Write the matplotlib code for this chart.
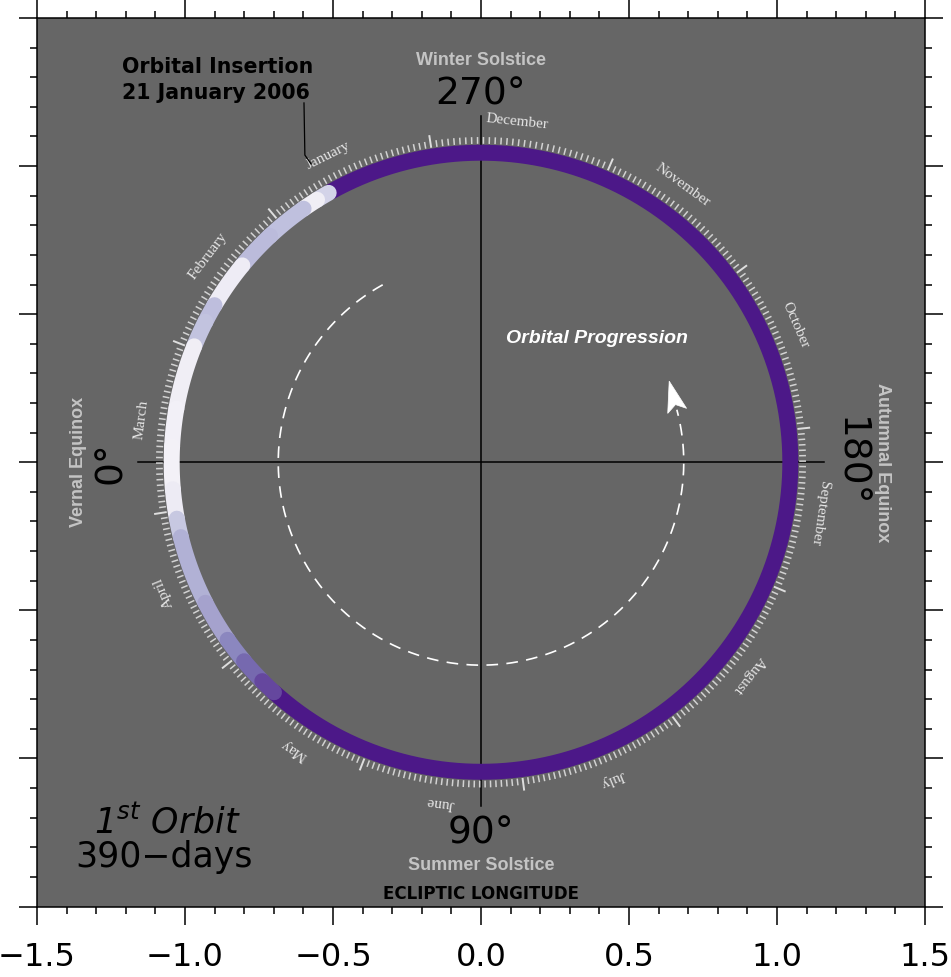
import numpy as np
import matplotlib
matplotlib.use("Agg")
import matplotlib.pyplot as plt
from matplotlib.collections import LineCollection
from matplotlib.patches import Polygon
from matplotlib.ticker import MultipleLocator

# Calendar scale around the orbit: ecliptic longitude (deg) of each month's first day
month_names = ["January", "February", "March", "April", "May", "June",
               "July", "August", "September", "October", "November", "December"]
month_start_lon = [279.0, 310.0, 338.5, 9.0, 38.5, 68.5,
                   97.5, 127.0, 157.0, 186.0, 216.5, 246.5]
month_days = [31, 28, 31, 30, 31, 30, 31, 31, 30, 31, 30, 31]
# Longitude where each month name is written
month_label_lon = [296.5, 323.0, 352.8, 22.3, 57.0, 83.1,
                   112.5, 141.5, 171.5, 203.5, 233.9, 264.0]

# Orbit track: longitude ranges (deg, unwrapped) and colour level on the Purples scale
track_start = [48.0, 299.5, 302.0, 305.0, 313.0, 320.5, 329.5, 333.0, 338.0,
               350.0, 357.0, 365.0, 370.5, 374.0, 387.0, 395.0, 400.0, 405.0]
track_end = [299.0, 302.0, 305.0, 313.0, 320.5, 329.5, 333.0, 338.0, 350.0,
             357.0, 365.0, 370.5, 374.0, 387.0, 395.0, 400.0, 405.0, 408.0]
track_level = [0.92, 0.28, 0.12, 0.36, 0.38, 0.13, 0.37, 0.35, 0.12,
               0.10, 0.09, 0.14, 0.33, 0.42, 0.47, 0.58, 0.68, 0.78]

# Orbital progression arrow (deg)
progress_start, progress_end = 299.0, 195.0 + 360.0

R_TRACK = 1.045
R_PROGRESS = 0.685


def lon_xy(lon_deg, r):
    t = np.radians(lon_deg)
    return -r * np.cos(t), -r * np.sin(t)


fig = plt.figure(figsize=(9.51, 9.77), dpi=100)
ax = fig.add_axes([37 / 951, 70 / 977, 888 / 951, 889.5 / 977])
ax.set_facecolor("#666666")
ax.set_xlim(-1.5, 1.5)
ax.set_ylim(-1.5015, 1.5015)

for sp in ax.spines.values():
    sp.set_linewidth(1.1)
ax.xaxis.set_major_locator(MultipleLocator(0.5))
ax.xaxis.set_minor_locator(MultipleLocator(0.1))
ax.yaxis.set_major_locator(MultipleLocator(0.5))
ax.yaxis.set_minor_locator(MultipleLocator(0.1))
ax.tick_params(which="both", direction="out", top=True, right=True,
               labelleft=False, labeltop=False, labelright=False, width=1.1)
ax.tick_params(which="major", length=13)
ax.tick_params(which="minor", length=5)
ax.tick_params(axis="x", labelsize=23, pad=12)

# Cross-hair through the centre
ax.plot([-1.16, 1.16], [0, 0], color="black", lw=1.1, zorder=2)
ax.plot([0, 0], [-1.16, 1.17], color="black", lw=1.1, zorder=2)

# Orbit track
cmap = plt.get_cmap("Purples")
for s, e, lev in zip(track_start, track_end, track_level):
    th = np.linspace(s, e, max(2, int(abs(e - s) * 2)))
    x, y = lon_xy(th, R_TRACK)
    ax.plot(x, y, color=cmap(lev), lw=11.5, solid_capstyle="round", zorder=3)

# Daily ticks, month boundaries and month names
segs, long_segs = [], []
for i, (name, s, nd) in enumerate(zip(month_names, month_start_lon, month_days)):
    e = month_start_lon[(i + 1) % 12]
    if e < s:
        e += 360.0
    for k in range(nd):
        lon = s + (e - s) * k / nd
        x0, y0 = lon_xy(lon, 1.075)
        if k == 0:
            x1, y1 = lon_xy(lon, 1.118)
            long_segs.append([(x0, y0), (x1, y1)])
        else:
            x1, y1 = lon_xy(lon, 1.098)
            segs.append([(x0, y0), (x1, y1)])
    lab = month_label_lon[i]
    tx, ty = lon_xy(lab, 1.157)
    ax.text(tx, ty, name, rotation=(lab + 90.0) % 360.0, rotation_mode="anchor",
            ha="center", va="center", fontsize=11, color="#e6e6e6",
            family=["Liberation Serif", "DejaVu Serif"], zorder=4)
ax.add_collection(LineCollection(segs, colors="#d2d2d2", linewidths=1.1, zorder=3))
ax.add_collection(LineCollection(long_segs, colors="#dedede", linewidths=1.4, zorder=3))

# Direction of orbital progression
th = np.linspace(progress_start, progress_end, 400)
px, py = lon_xy(th, R_PROGRESS)
ax.plot(px, py, color="white", lw=1.2, ls=(0, (7, 5)), zorder=3)
tr = np.radians(progress_end)
bx, by = px[-1], py[-1]
t = np.array([np.sin(tr), -np.cos(tr)])
n = np.array([-t[1], t[0]])
b = np.array([bx, by])
head = [b + 0.10 * t, b + 0.033 * n - 0.004 * t, b + 0.018 * t, b - 0.033 * n - 0.004 * t]
ax.add_patch(Polygon(head, closed=True, facecolor="white", edgecolor="white",
                     lw=0.5, zorder=4))
ax.text(0.39, 0.419, "Orbital Progression", ha="center", va="center",
        fontsize=14, color="white", fontweight="bold", style="italic",
        family=["Liberation Sans", "DejaVu Sans"])

# Cardinal longitudes
deg_kw = dict(fontsize=27, color="black", ha="center", va="center")
season_kw = dict(fontsize=13, color="#c4c4c4", fontweight="bold", ha="center",
                 va="center", family=["Liberation Sans", "DejaVu Sans"])
ax.text(0, 1.24, "270°", **deg_kw)
ax.text(0, -1.253, "90°", **deg_kw)
ax.text(-1.25, 0, "0°", rotation=90, **deg_kw)
ax.text(1.243, 0, "180°", rotation=-90, **deg_kw)
ax.text(0, 1.358, "Winter Solstice", **season_kw)
ax.text(0, -1.361, "Summer Solstice", **season_kw)
ax.text(-1.36, 0, "Vernal Equinox", rotation=90, **season_kw)
ax.text(1.355, 0, "Autumnal Equinox", rotation=-90, **season_kw)
ax.text(0, -1.456, "ECLIPTIC LONGITUDE", fontsize=12, fontweight="bold",
        color="black", ha="center", va="center")

# Orbital insertion marker
ax.plot([-0.598, -0.595, -0.574], [1.213, 1.037, 1.007], color="black", lw=0.9, zorder=4)
ax.text(-1.213, 1.29, "Orbital Insertion\n21 January 2006", ha="left", va="center",
        fontsize=14.8, fontweight="bold", color="black", linespacing=1.35)

# Orbit summary
ax.text(-1.058, -1.253, "1$^{st}$ Orbit", ha="center", va="baseline",
        fontsize=25, style="italic", color="black")
ax.text(-1.071, -1.368, "390\u2212days", ha="center", va="baseline",
        fontsize=25, color="black")

fig.savefig("out.png", dpi=100)
